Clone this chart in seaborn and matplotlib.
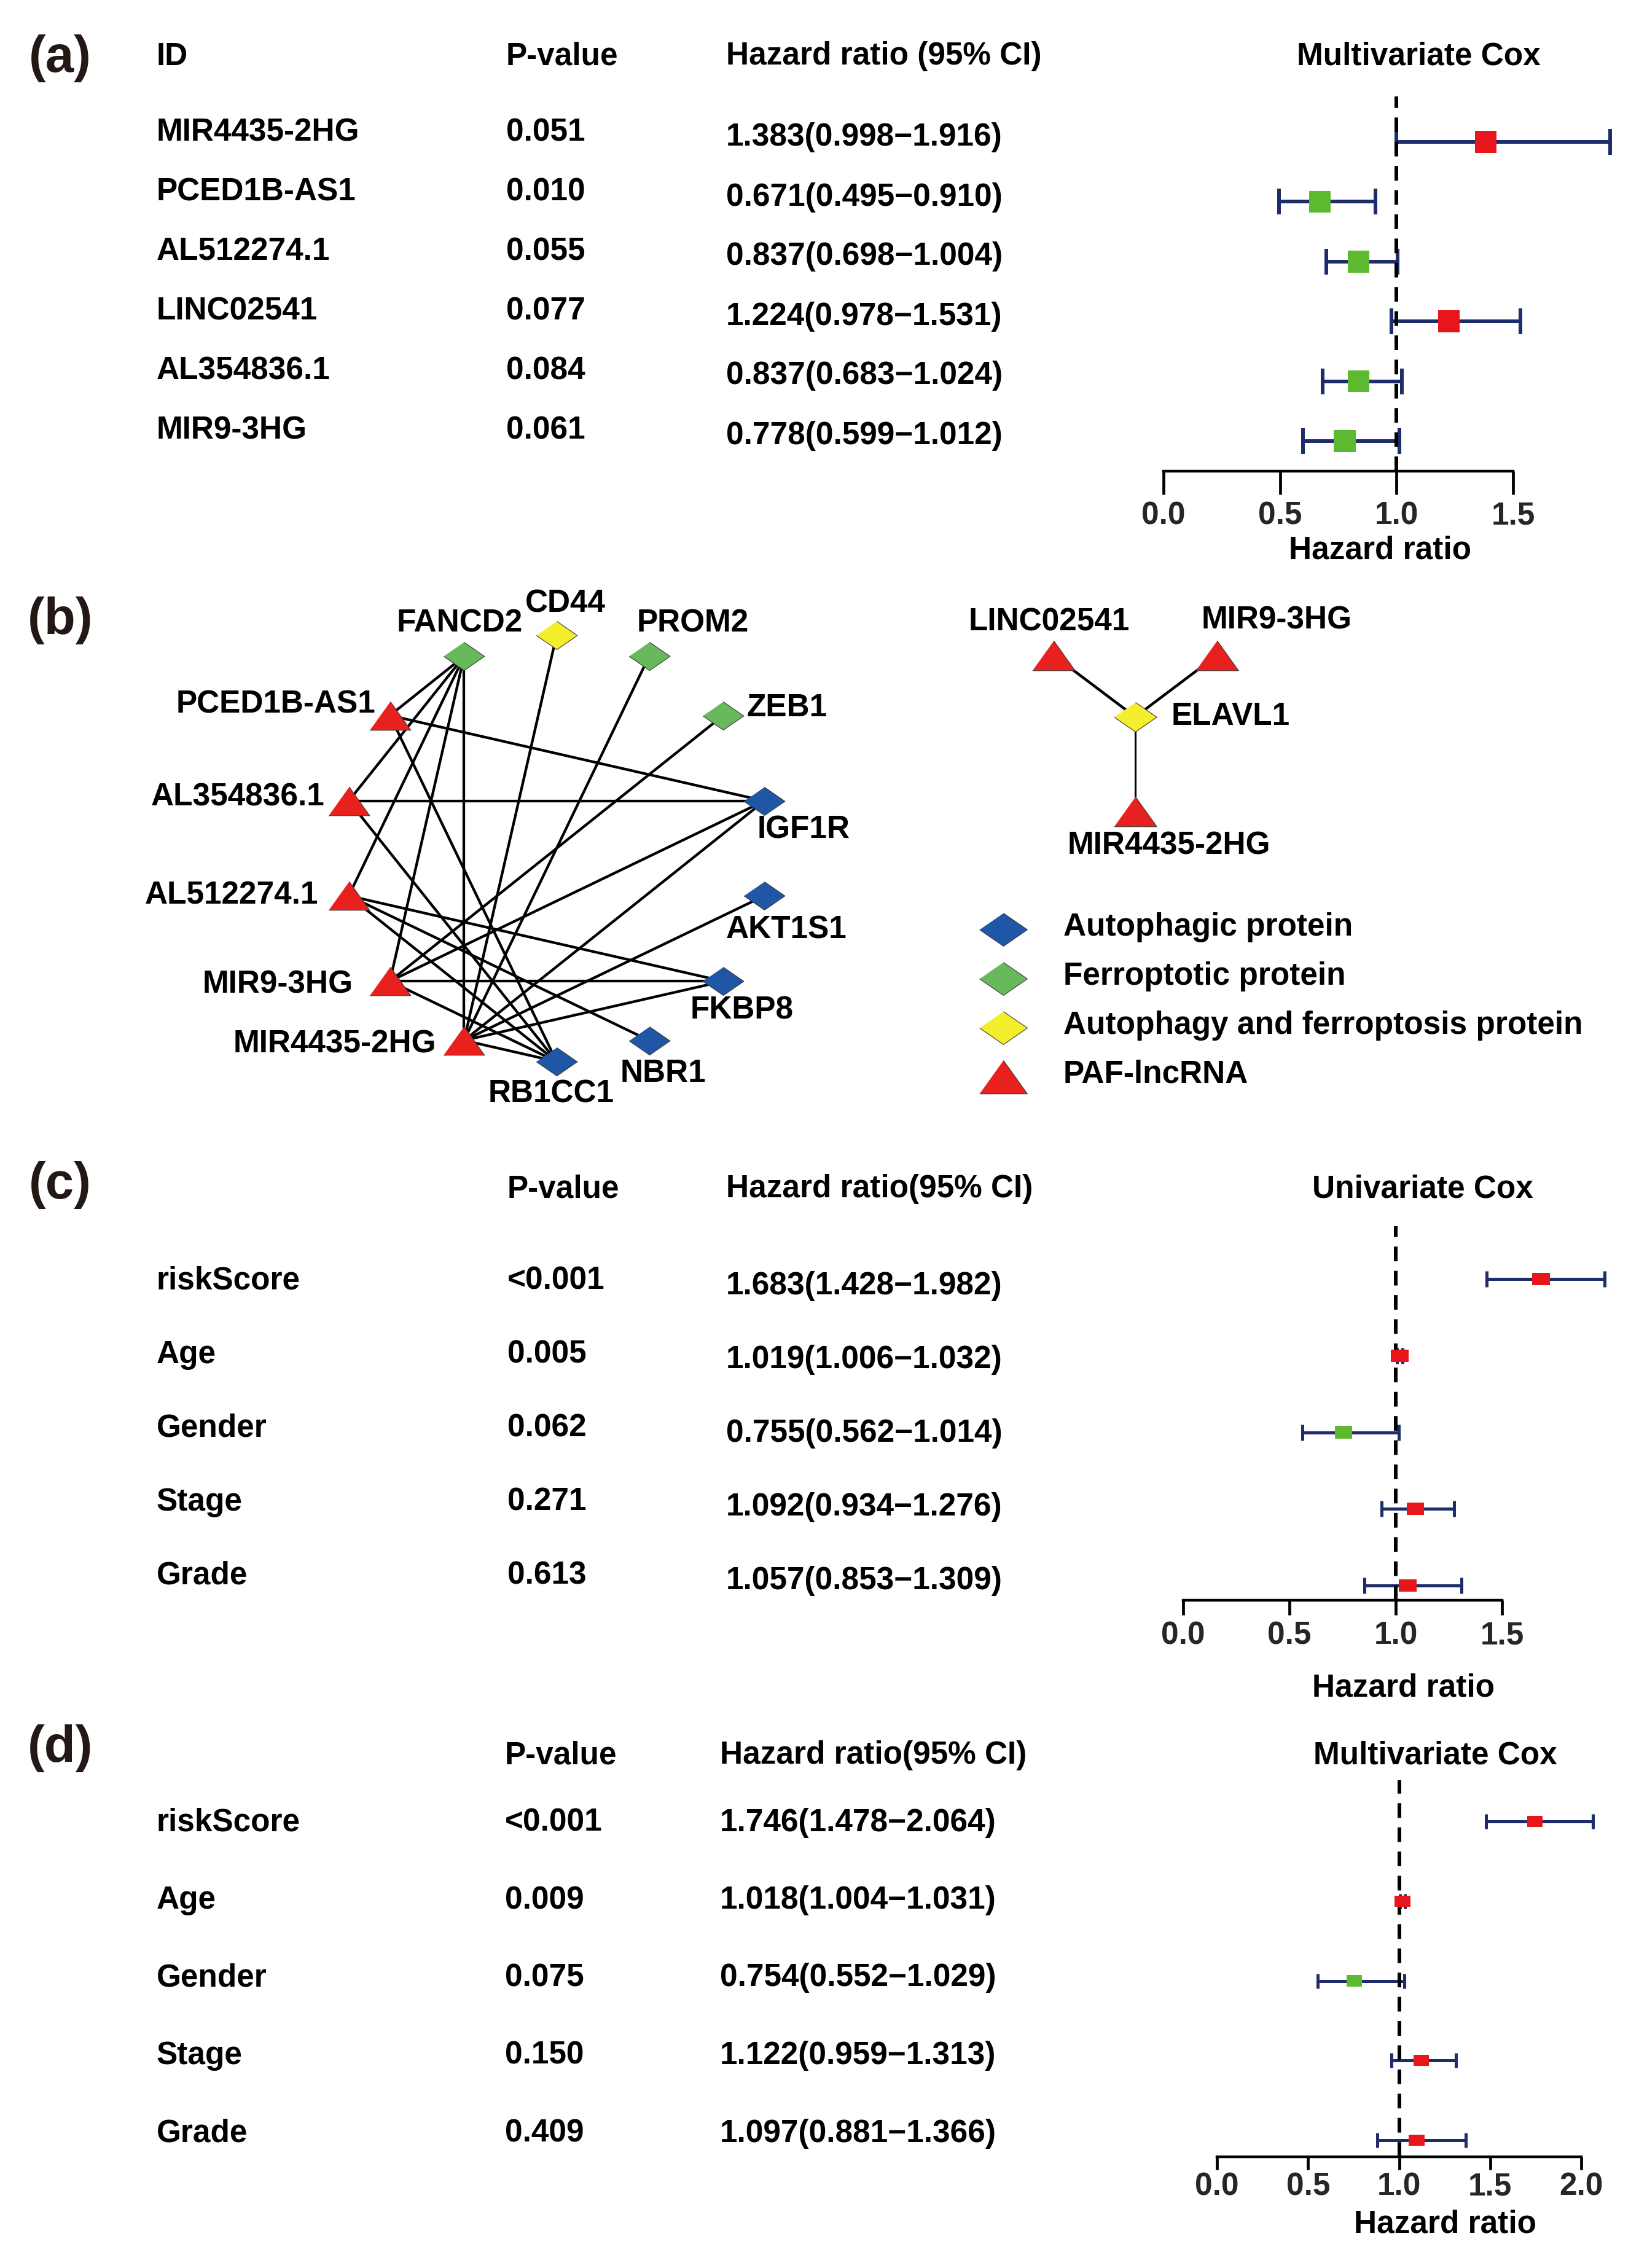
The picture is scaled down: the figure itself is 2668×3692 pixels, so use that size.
import numpy as np
import pandas as pd
import seaborn as sns
import matplotlib.pyplot as plt

# ---------------- data ----------------
# (a) multivariate Cox of the six PAF-lncRNAs
lnc_ids = ['MIR4435-2HG', 'PCED1B-AS1', 'AL512274.1', 'LINC02541', 'AL354836.1', 'MIR9-3HG']
lnc_p = ['0.051', '0.010', '0.055', '0.077', '0.084', '0.061']
lnc_hr = [1.383, 0.671, 0.837, 1.224, 0.837, 0.778]
lnc_low = [0.998, 0.495, 0.698, 0.978, 0.683, 0.599]
lnc_high = [1.916, 0.910, 1.004, 1.531, 1.024, 1.012]

# (c) univariate and (d) multivariate Cox of the clinical factors
clin_ids = ['riskScore', 'Age', 'Gender', 'Stage', 'Grade']
uni_p = ['<0.001', '0.005', '0.062', '0.271', '0.613']
uni_hr = [1.683, 1.019, 0.755, 1.092, 1.057]
uni_low = [1.428, 1.006, 0.562, 0.934, 0.853]
uni_high = [1.982, 1.032, 1.014, 1.276, 1.309]

multi_p = ['<0.001', '0.009', '0.075', '0.150', '0.409']
multi_hr = [1.746, 1.018, 0.754, 1.122, 1.097]
multi_low = [1.478, 1.004, 0.552, 0.959, 0.881]
multi_high = [2.064, 1.031, 1.029, 1.313, 1.366]

# (b) lncRNA - protein networks
ring_nodes = ['CD44', 'PROM2', 'ZEB1', 'IGF1R', 'AKT1S1', 'FKBP8', 'NBR1', 'RB1CC1',
              'MIR4435-2HG', 'MIR9-3HG', 'AL512274.1', 'AL354836.1', 'PCED1B-AS1', 'FANCD2']
ring_types = ['both', 'ferro', 'ferro', 'auto', 'auto', 'auto', 'auto', 'auto',
              'lnc', 'lnc', 'lnc', 'lnc', 'lnc', 'ferro']
ring_edges = [('FANCD2', 'PCED1B-AS1'), ('FANCD2', 'AL354836.1'), ('FANCD2', 'AL512274.1'),
              ('FANCD2', 'MIR9-3HG'), ('FANCD2', 'MIR4435-2HG'),
              ('CD44', 'MIR4435-2HG'), ('PROM2', 'MIR4435-2HG'), ('ZEB1', 'MIR9-3HG'),
              ('IGF1R', 'PCED1B-AS1'), ('IGF1R', 'AL354836.1'), ('IGF1R', 'MIR9-3HG'),
              ('IGF1R', 'MIR4435-2HG'), ('AKT1S1', 'MIR4435-2HG'),
              ('FKBP8', 'AL512274.1'), ('FKBP8', 'MIR9-3HG'), ('FKBP8', 'MIR4435-2HG'),
              ('NBR1', 'AL512274.1'),
              ('RB1CC1', 'PCED1B-AS1'), ('RB1CC1', 'AL354836.1'), ('RB1CC1', 'AL512274.1'),
              ('RB1CC1', 'MIR9-3HG'), ('RB1CC1', 'MIR4435-2HG')]

star_hub = 'ELAVL1'
star_leaves = ['LINC02541', 'MIR9-3HG', 'MIR4435-2HG']

legend_types = ['auto', 'ferro', 'both', 'lnc']
legend_labels = ['Autophagic protein', 'Ferroptotic protein',
                 'Autophagy and ferroptosis protein', 'PAF-lncRNA']

# ---------------- style ----------------
sns.set_theme(style='white')
plt.rcParams['font.family'] = ['Liberation Sans', 'DejaVu Sans']
plt.rcParams['font.weight'] = 'bold'
FS = 37

node_color = {'auto': '#1F56A6', 'ferro': '#68B95B', 'both': '#F4EE2C', 'lnc': '#E8201E'}
diamond = [(0, 0.69), (1, 0), (0, -0.69), (-1, 0)]
triangle = [(-1, -0.7), (1, -0.7), (0, 0.7)]
node_marker = {'auto': diamond, 'ferro': diamond, 'both': diamond, 'lnc': triangle}
risk_palette = {'up': '#E8161B', 'down': '#5DB92F'}
bar_color = '#1D2D6B'

W, H = 2668, 3692
fig = plt.figure(figsize=(W / 100, H / 100), dpi=100)
bg = fig.add_axes([0, 0, 1, 1])
bg.set_xlim(0, W)
bg.set_ylim(H, 0)
bg.axis('off')


def txt(x, y, s, ha='left', size=FS, weight='bold', color='black'):
    bg.text(x, y, s, ha=ha, va='center', fontsize=size, fontweight=weight, color=color)


# panel letters
for letter, y in zip(['(a)', '(b)', '(c)', '(d)'], [95, 1010, 1929, 2846]):
    txt(98, y, letter, ha='center', size=60, weight='bold', color='#231815')


# ---------------- forest plots ----------------
def forest(ids, pvals, hr, low, high, geo, title, with_id_header):
    # geo: pixel geometry of the panel
    x0, ppu, row0, step, axis_y, top_y, xmax, ticks = (geo[k] for k in
        ['x0', 'ppu', 'row0', 'step', 'axis', 'top', 'xmax', 'ticks'])
    xmin = -0.06
    left = x0 + xmin * ppu
    width = (xmax - xmin) * ppu
    ax = fig.add_axes([left / W, 1 - axis_y / H, width / W, (axis_y - top_y) / H])
    ax.patch.set_alpha(0)

    df = pd.DataFrame({'row': np.arange(len(ids)), 'hr': hr, 'low': low, 'high': high})
    df['risk'] = np.where(df['hr'] > 1, 'up', 'down')
    ax.errorbar(df['hr'], df['row'], xerr=[df['hr'] - df['low'], df['high'] - df['hr']],
                fmt='none', ecolor=bar_color, elinewidth=geo['lw'], capsize=geo['cap'],
                capthick=geo['lw'], zorder=2)
    ax.axvline(1, color='black', lw=4.3, ls=(0, (4, 2.6)), zorder=2.5)
    sns.scatterplot(data=df, x='hr', y='row', hue='risk', palette=risk_palette,
                    marker=geo['box'], s=geo['box_s'], linewidth=0, legend=False,
                    ax=ax, zorder=3)

    ax.set_xlim(xmin, xmax)
    ax.set_ylim((axis_y - row0) / step, (top_y - row0) / step)
    for side in ['top', 'right', 'left']:
        ax.spines[side].set_visible(False)
    ax.spines['bottom'].set_bounds(ticks[0], ticks[-1])
    ax.spines['bottom'].set_linewidth(3.2)
    ax.spines['bottom'].set_color('black')
    ax.set_xticks(ticks)
    ax.set_xticklabels([f'{t:.1f}' for t in ticks], fontsize=FS, fontweight='bold')
    ax.tick_params(axis='x', direction='out', length=geo['tick_len'], width=3.4,
                   color='black', pad=geo['pad'], bottom=True)
    ax.set_yticks([])
    ax.set_xlabel('')
    ax.set_ylabel('')

    # table part
    if with_id_header:
        txt(geo['col_id'], geo['head_y'], 'ID')
    txt(geo['col_p'], geo['head_y'], 'P-value')
    txt(geo['col_hr'], geo['head_y'], geo['hr_head'])
    txt(geo['title_x'], geo['head_y'], title, ha='center')
    txt(geo['xlab_x'], geo['xlab_y'], 'Hazard ratio', ha='center')
    for i, name in enumerate(ids):
        y = geo['text0'] + i * geo['text_step']
        txt(geo['col_id'], y, name)
        txt(geo['col_p'], y, pvals[i])
        txt(geo['col_hr'], y + geo['hr_dy'], f'{hr[i]:.3f}({low[i]:.3f}\u2212{high[i]:.3f})')
    return ax


rect = [(-1, -0.72), (1, -0.72), (1, 0.72), (-1, 0.72)]

geo_a = dict(x0=1894, ppu=379.3, row0=231, step=97.4, axis=767, top=157, xmax=2.0,
             ticks=[0.0, 0.5, 1.0, 1.5], lw=4.3, cap=15, box='s', box_s=650,
             tick_len=27, pad=8, col_id=255, col_p=824, col_hr=1182, head_y=92,
             hr_head='Hazard ratio (95% CI)', title_x=2309, xlab_x=2246, xlab_y=896,
             text0=216, text_step=97, hr_dy=8)
geo_c = dict(x0=1926, ppu=346, row0=2082, step=124.75, axis=2605, top=1996, xmax=2.12,
             ticks=[0.0, 0.5, 1.0, 1.5], lw=3.6, cap=9.5, box=rect, box_s=420,
             tick_len=17, pad=7, col_id=255, col_p=826, col_hr=1182, head_y=1936,
             hr_head='Hazard ratio(95% CI)', title_x=2316, xlab_x=2284, xlab_y=2748,
             text0=2085, text_step=120, hr_dy=8)
geo_d = dict(x0=1981, ppu=296.5, row0=2965, step=129.75, axis=3511, top=2898, xmax=2.2,
             ticks=[0.0, 0.5, 1.0, 1.5, 2.0], lw=3.6, cap=8.5, box=rect, box_s=340,
             tick_len=15, pad=3, col_id=255, col_p=822, col_hr=1172, head_y=2858,
             hr_head='Hazard ratio(95% CI)', title_x=2336, xlab_x=2352, xlab_y=3621,
             text0=2967, text_step=126.5, hr_dy=0)

forest(lnc_ids, lnc_p, lnc_hr, lnc_low, lnc_high, geo_a, 'Multivariate Cox', True)
forest(clin_ids, uni_p, uni_hr, uni_low, uni_high, geo_c, 'Univariate Cox', False)
forest(clin_ids, multi_p, multi_hr, multi_low, multi_high, geo_d, 'Multivariate Cox', False)

# ---------------- (b) networks ----------------
# circular layout for the big network, clockwise from the top
cx, cy, rad = 906, 1381, 347
ang = np.deg2rad(90 - np.arange(len(ring_nodes)) * 360 / len(ring_nodes))
ring = pd.DataFrame({'name': ring_nodes, 'type': ring_types,
                     'x': cx + rad * np.cos(ang), 'y': cy - rad * np.sin(ang)})
pos = ring.set_index('name')[['x', 'y']]
for a, b in ring_edges:
    bg.plot([pos.loc[a, 'x'], pos.loc[b, 'x']], [pos.loc[a, 'y'], pos.loc[b, 'y']],
            color='black', lw=3.1, zorder=2, solid_capstyle='round')
for t, sub in ring.groupby('type'):
    sns.scatterplot(data=sub, x='x', y='y', color=node_color[t], marker=node_marker[t],
                    s=48 ** 2, edgecolor='#3a3a3a', linewidth=0.8, legend=False, ax=bg, zorder=3)

# label placement (dx, dy, ha) relative to each node
ring_label = {'CD44': (14, -51, 'center'), 'PROM2': (-20, -53, 'left'),
              'ZEB1': (38, -12, 'left'), 'IGF1R': (-12, 47, 'left'),
              'AKT1S1': (-63, 56, 'left'), 'FKBP8': (-54, 48, 'left'),
              'NBR1': (-47, 54, 'left'), 'RB1CC1': (-9, 53, 'center'),
              'MIR4435-2HG': (-45, 6, 'right'), 'MIR9-3HG': (-60, 6, 'right'),
              'AL512274.1': (-50, 0, 'right'), 'AL354836.1': (-39, -6, 'right'),
              'PCED1B-AS1': (-23, -18, 'right'), 'FANCD2': (95, -53, 'right')}
for _, r in ring.iterrows():
    dx, dy, ha = ring_label[r['name']]
    txt(r['x'] + dx, r['y'] + dy, r['name'], ha=ha)

# star layout for ELAVL1
hx, hy = 1848, 1167
leaf_ang = np.deg2rad([143, 37, 270])
leaf_rad = np.array([166, 166, 154])
star = pd.DataFrame({'name': [star_hub] + star_leaves, 'type': ['both', 'lnc', 'lnc', 'lnc'],
                     'x': np.r_[hx, hx + leaf_rad * np.cos(leaf_ang)],
                     'y': np.r_[hy, hy - leaf_rad * np.sin(leaf_ang)]})
for i, leaf in enumerate(star_leaves):
    bg.plot([hx, star.loc[i + 1, 'x']], [hy, star.loc[i + 1, 'y']], color='black',
            lw=3.2 if i < 2 else 2.2, zorder=2)
for t, sub in star.groupby('type'):
    sns.scatterplot(data=sub, x='x', y='y', color=node_color[t], marker=node_marker[t],
                    s=50 ** 2, edgecolor='#3a3a3a', linewidth=0.8, legend=False, ax=bg, zorder=3)
star_label = {'ELAVL1': (59, 0, 'left'), 'LINC02541': (-8, -54, 'center'),
              'MIR9-3HG': (98, -57, 'center'), 'MIR4435-2HG': (55, 56, 'center')}
for _, r in star.iterrows():
    dx, dy, ha = star_label[r['name']]
    txt(r['x'] + dx, r['y'] + dy, r['name'], ha=ha)

# legend
leg = pd.DataFrame({'type': legend_types, 'label': legend_labels,
                    'x': 1633, 'y': 1513 + np.arange(4) * 80})
for _, r in leg.iterrows():
    sns.scatterplot(x=[r['x']], y=[r['y']], color=node_color[r['type']],
                    marker=node_marker[r['type']], s=56 ** 2, edgecolor='#3a3a3a',
                    linewidth=0.8, legend=False, ax=bg, zorder=3)
    txt(1731, r['y'] - 4, r['label'])

bg.set_xlim(0, W)
bg.set_ylim(H, 0)
bg.set_xlabel('')
bg.set_ylabel('')

fig.savefig('out.png', dpi=100, facecolor='white')
